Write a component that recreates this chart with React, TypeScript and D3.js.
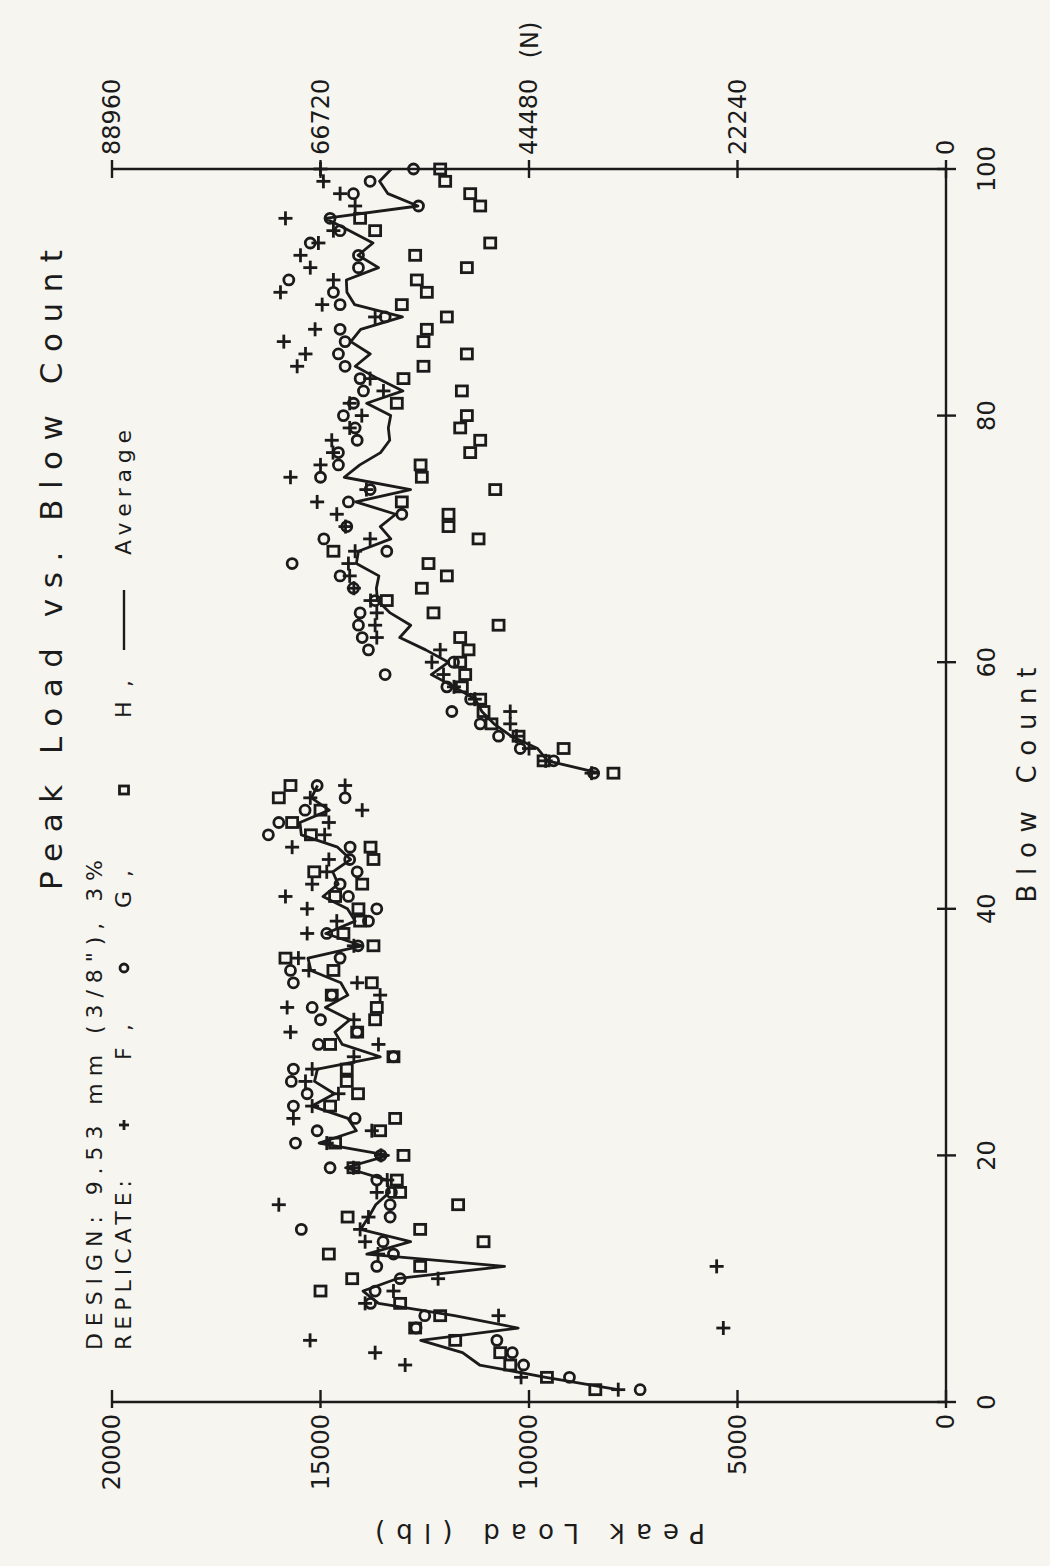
import React from 'react';
import * as d3 from 'd3';

// ---- data ----
const blowCount = [
  1, 2, 3, 4, 5, 6, 7, 8, 9, 10, 11, 12, 13, 14, 15, 16, 17, 18, 19, 20,
  21, 22, 23, 24, 25, 26, 27, 28, 29, 30, 31, 32, 33, 34, 35, 36, 37, 38, 39, 40,
  41, 42, 43, 44, 45, 46, 47, 48, 49, 50, 51, 52, 53, 54, 55, 56, 57, 58, 59, 60,
  61, 62, 63, 64, 65, 66, 67, 68, 69, 70, 71, 72, 73, 74, 75, 76, 77, 78, 79, 80,
  81, 82, 83, 84, 85, 86, 87, 88, 89, 90, 91, 92, 93, 94, 95, 96, 97, 98, 99, 100,
];

const replicateF = [
  7860, 10190, 12970, 13690, 15250, 5340, 10730, 13930, 13250, 12180,
  5500, 13620, 13930, 14050, 13850, 16000, 13650, 13400, 14210, 13550,
  14850, 13770, 15650, 15200, 14570, 15360, 15200, 14200, 13610, 15720,
  14200, 15800, 13570, 14120, 15280, 15530, 14200, 15320, 14610, 15320,
  15840, 15200, 14850, 14800, 15680, 14900, 14800, 14000, 15245, 14410,
  8500, 9600, 10000, 10300, 10450, 10450, 11300, 11800, 12050, 12330,
  12130, 13650, 13690, 13650, 13800, 14200, 14300, 14330, 14170, 13810,
  14400, 14610, 15080, 13900, 15720, 15000, 14700, 14730, 14300, 14010,
  14300, 13490, 13810, 15560, 15360, 15880, 15130, 13690, 14960, 15960,
  14690, 15245, 15480, 15050, 14690, 15840, 14170, 14530, 14930, 15000,
];

const replicateG = [
  7335, 9030, 10130, 10400, 10770, 12710, 12500, 13800, 13690, 13090,
  13650, 13250, 13500, 15460, 13330, 13330, 13300, 13650, 14770, 13550,
  15600, 15080, 14170, 15650, 15320, 15700, 15650, 13250, 15050, 14120,
  15000, 15200, 14730, 15650, 15720, 14530, 14100, 14850, 13850, 13650,
  14330, 14530, 14120, 14300, 14290, 16250, 16000, 15370, 14410, 15080,
  8450, 9410, 10210, 10730, 11170, 11850, 11400, 11970, 13450, 11810,
  13850, 14000, 14090, 14050, 13690, 14210, 14530, 15680, 13410, 14920,
  14370, 13050, 14330, 13810, 15000, 14570, 14570, 14120, 14170, 14450,
  14210, 13970, 14050, 14410, 14570, 14410, 14530, 13450, 14530, 14690,
  15760, 14090, 14090, 15245, 14530, 14770, 12650, 14210, 13810, 12770,
];

const replicateH = [
  8410, 9570, 10450, 10690, 11770, 12730, 12130, 13090, 15000, 14240,
  12610, 14800, 11090, 12610, 14350, 11700, 13090, 13170, 14210, 13010,
  14650, 13570, 13210, 14770, 14100, 14370, 14370, 13250, 14770, 14120,
  13690, 13650, 14730, 13770, 14690, 15840, 13730, 14450, 14050, 14090,
  14650, 14000, 15150, 13730, 13800, 15230, 15680, 15000, 16000, 15720,
  7975, 9650, 9170, 10250, 10900, 11090, 11170, 11610, 11530, 11650,
  11450, 11650, 10730, 12290, 13410, 12570, 11970, 12410, 14690, 11210,
  11930, 11930, 13050, 10810, 12570, 12600, 11410, 11170, 11650, 11490,
  13170, 11610, 13010, 12530, 11490, 12530, 12450, 11970, 13050, 12450,
  12690, 11490, 12730, 10930, 13690, 14050, 11170, 11410, 12010, 12130,
];

// the average line is drawn in two runs of blows
const averageRuns = [
  [1, 50],
  [51, 100],
];

const blowTicks = [0, 20, 40, 60, 80, 100];
const loadTicks = [0, 5000, 10000, 15000, 20000];
const newtonTicks = [0, 22240, 44480, 66720, 88960];

const titleText = 'Peak Load vs. Blow Count';
const designText = 'DESIGN: 9.53 mm (3/8"), 3%';

// ---- layout ----
const W = 1050;
const H = 1566;
const INK = '#1b1b1b';
const FONT = 'DejaVu Sans, sans-serif';

// inner frame is the unrotated chart: x' = H - pageY, y' = pageX
const px = (pageY: number) => H - pageY;

const Plus = ({ x, y, s = 7 }: { x: number; y: number; s?: number }) => (
  <g stroke={INK} strokeWidth={2.8}>
    <line x1={x - s} x2={x + s} y1={y} y2={y} />
    <line x1={x} x2={x} y1={y - s} y2={y + s} />
  </g>
);
const Circ = ({ x, y, r = 5 }: { x: number; y: number; r?: number }) => (
  <circle cx={x} cy={y} r={r} fill="none" stroke={INK} strokeWidth={2.8} />
);
const Sq = ({ x, y, s = 5 }: { x: number; y: number; s?: number }) => (
  <rect x={x - s} y={y - s - 0.5} width={2 * s} height={2 * s + 1} fill="none" stroke={INK} strokeWidth={2.8} />
);

export default function App() {
  const x = d3.scaleLinear().domain([0, 100]).range([px(1402), px(169)]);
  const y = d3.scaleLinear().domain([0, 20000]).range([946, 112]);
  const yN = d3.scaleLinear().domain([0, 88960]).range([946, 112]);

  const avg = blowCount.map((b, i) => ({
    b,
    v: d3.mean([replicateF[i], replicateG[i], replicateH[i]]) as number,
  }));
  const line = d3
    .line<{ b: number; v: number }>()
    .x((d) => x(d.b))
    .y((d) => y(d.v));

  const x0 = x(0);
  const x100 = x(100);

  return (
    <svg
      width={W}
      height={H}
      viewBox={`0 0 ${W} ${H}`}
      style={{ position: 'absolute', left: 0, top: 0, background: '#f6f5ef' }}
    >
      <rect width={W} height={H} fill="#f6f5ef" />
      <g transform={`translate(0,${H}) rotate(-90)`} fontFamily={FONT} fill={INK}>
        {/* axes lines */}
        <g stroke={INK} strokeWidth={2.4} fill="none">
          <line x1={x0} x2={x100} y1={y(0)} y2={y(0)} />
          <line x1={x0} x2={x0} y1={y(0)} y2={y(20000)} />
          <line x1={x100} x2={x100} y1={y(0)} y2={y(20000)} />
          {blowTicks.map((t) => (
            <line key={'bt' + t} x1={x(t)} x2={x(t)} y1={y(0) - 9} y2={y(0) + 10} />
          ))}
          {loadTicks.map((t) => (
            <line key={'lt' + t} x1={x0 - 6} x2={x0 + 12} y1={y(t)} y2={y(t)} />
          ))}
          {newtonTicks.map((t) => (
            <line key={'nt' + t} x1={x100 - 9} x2={x100 + 9} y1={yN(t)} y2={yN(t)} />
          ))}
        </g>

        {/* tick labels */}
        {blowTicks.map((t) => (
          <text key={'bl' + t} x={x(t)} y={995} fontSize={24} textAnchor="middle">
            {t}
          </text>
        ))}
        {loadTicks.map((t) => (
          <text key={'ll' + t} x={x0 - 12} y={y(t)} fontSize={24} textAnchor="end" dominantBaseline="central">
            {t}
          </text>
        ))}
        {newtonTicks.map((t) => (
          <text key={'nl' + t} x={x100 + 14} y={yN(t)} fontSize={24} textAnchor="start" dominantBaseline="central">
            {t}
          </text>
        ))}

        {/* axis titles */}
        <text x={px(785)} y={1036} fontSize={26} textAnchor="middle" textLength={235} lengthAdjust="spacing">
          Blow Count
        </text>
        <text x={px(40)} y={530} fontSize={24} textAnchor="middle" dominantBaseline="central">
          (N)
        </text>
        <text
          transform={`translate(${px(1533)},540) rotate(-90)`}
          fontSize={26}
          textAnchor="middle"
          dominantBaseline="central"
          textLength={330}
          lengthAdjust="spacing"
        >
          Peak Load (lb)
        </text>

        {/* title and legend */}
        <text x={px(890)} y={62} fontSize={31} textLength={640} lengthAdjust="spacing">
          {titleText}
        </text>
        <text x={px(1350)} y={102} fontSize={22} textLength={490} lengthAdjust="spacing">
          {designText}
        </text>
        <text x={px(1350)} y={131} fontSize={22} textLength={170} lengthAdjust="spacing">
          REPLICATE:
        </text>
        <Plus x={px(1125)} y={124} s={5} />
        <text x={px(1060)} y={131} fontSize={22} textLength={36} lengthAdjust="spacing">F,</text>
        <Circ x={px(968)} y={124} r={4} />
        <text x={px(908)} y={131} fontSize={22} textLength={38} lengthAdjust="spacing">G,</text>
        <Sq x={px(790)} y={124} s={4} />
        <text x={px(718)} y={131} fontSize={22} textLength={38} lengthAdjust="spacing">H,</text>
        <line x1={px(650)} x2={px(590)} y1={124} y2={124} stroke={INK} strokeWidth={2.4} />
        <text x={px(555)} y={131} fontSize={22} textLength={125} lengthAdjust="spacing">
          Average
        </text>

        {/* average line */}
        {averageRuns.map(([a, b]) => (
          <path
            key={'run' + a}
            d={line(avg.filter((d) => d.b >= a && d.b <= b)) || ''}
            fill="none"
            stroke={INK}
            strokeWidth={2.8}
            strokeLinejoin="round"
          />
        ))}

        {/* replicate markers */}
        {blowCount.map((b, i) => (
          <g key={'m' + b}>
            <Plus x={x(b)} y={y(replicateF[i])} />
            <Circ x={x(b)} y={y(replicateG[i])} />
            <Sq x={x(b)} y={y(replicateH[i])} />
          </g>
        ))}
      </g>
    </svg>
  );
}
